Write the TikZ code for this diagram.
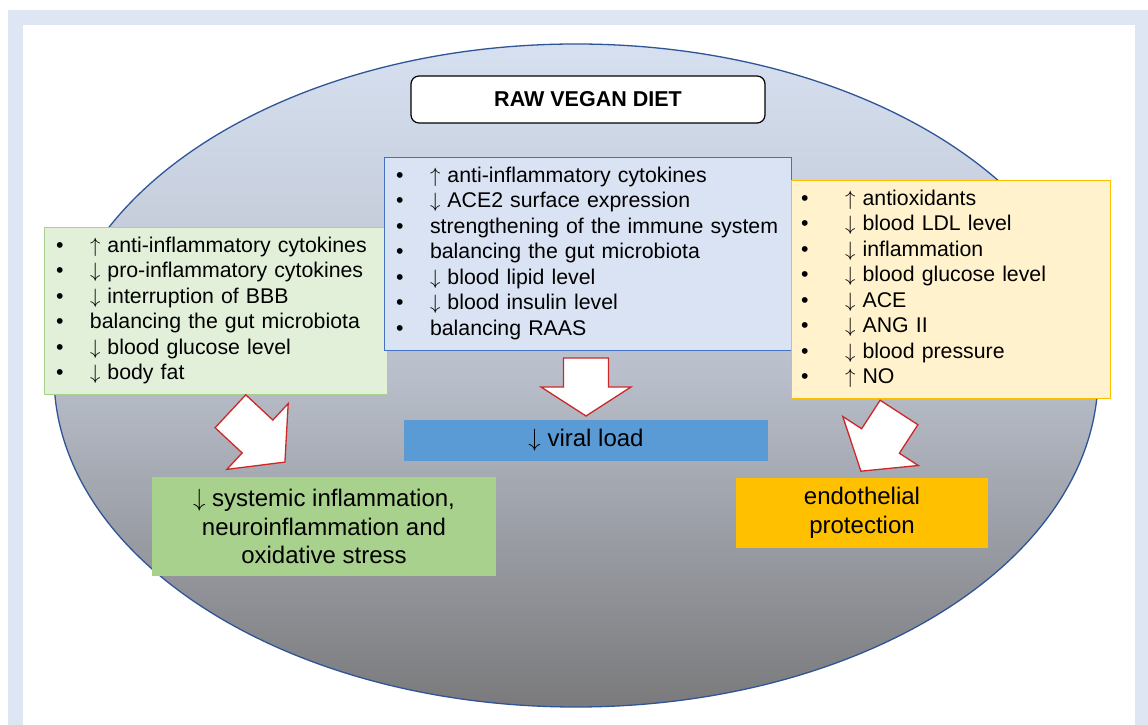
\documentclass[tikz,border=0pt]{standalone}
\usepackage{fontspec}
\setmainfont{Liberation Sans}
\usetikzlibrary{calc,positioning}

\definecolor{framebg}{RGB}{222,230,243}
\definecolor{ellborder}{RGB}{47,85,151}
\definecolor{elltop}{RGB}{214,224,240}
\definecolor{ellmid}{RGB}{184,190,202}
\definecolor{ellbot}{RGB}{122,122,124}
\definecolor{boxblue}{RGB}{218,227,243}
\definecolor{lineblue}{RGB}{68,114,196}
\definecolor{boxgreen}{RGB}{226,240,217}
\definecolor{linegreen}{RGB}{169,209,142}
\definecolor{boxyellow}{RGB}{255,242,204}
\definecolor{lineyellow}{RGB}{255,192,0}
\definecolor{viralblue}{RGB}{91,155,213}
\definecolor{resgreen}{RGB}{169,209,142}
\definecolor{resorange}{RGB}{255,192,0}
\definecolor{arrowred}{RGB}{204,40,40}

\newcommand{\bul}[1][34pt]{\makebox[#1][l]{•}}
\newcommand{\up}{$\uparrow$}
\newcommand{\dn}{$\downarrow$}
\newcommand{\fatarrow}[4]{% base of head, angle, shaft length, head length
  \draw[fatline, shift={(#1)}, rotate=#2] (-#3,-22.5) -- (0,-22.5) -- (0,-45) -- (#4,0) -- (0,45) -- (0,22.5) -- (-#3,22.5) -- cycle;}

\tikzset{
  listbox/.style={draw, line width=0.9pt, inner xsep=12pt, inner ysep=0pt, align=left,
    font=\fontsize{21.3}{25.5}\selectfont},
  resbox/.style={inner sep=0pt, align=center, font=\fontsize{24}{28.5}\selectfont},
  titlebox/.style={draw=black, fill=white, line width=1.2pt, rounded corners=8pt,
    minimum width=354pt, minimum height=47pt, font=\bfseries\fontsize{21.5}{25}\selectfont},
  fatline/.style={draw=arrowred, fill=white, line width=1.3pt, line join=miter}
}

\begin{document}
\begin{tikzpicture}[x=1pt, y=1pt]
    \useasboundingbox (0,0) rectangle (1148,725);
    % frame
    \fill[framebg] (8,0) rectangle (1148,715);
    \fill[white] (23,0) rectangle (1135,700);

    % ellipse
    \shade[top color=elltop, bottom color=ellbot, middle color=ellmid] (576,349.5) ellipse (522 and 331.5);
    \draw[ellborder, line width=1.3pt] (576,349.5) ellipse (522 and 331.5);

    \node[titlebox] (diet) at (588,625.5) {RAW VEGAN DIET};

    % lists
    \node[listbox, fill=boxgreen, draw=linegreen, minimum width=343pt, minimum height=167pt, text width=319pt] (brain) at (215.5,414.5) {%
        \bul \up\ anti-inflammatory cytokines\\
        \bul \dn\ pro-inflammatory cytokines\\
        \bul \dn\ interruption of BBB\\
        \bul balancing the gut microbiota\\
        \bul \dn\ blood glucose level\\
        \bul \dn\ body fat};
    \node[listbox, fill=boxblue, draw=lineblue, minimum width=407pt, minimum height=193pt, text width=383pt] (immune) at (587.5,471.5) {%
        \bul \up\ anti-inflammatory cytokines\\
        \bul \dn\ ACE2 surface expression\\
        \bul strengthening of the immune system\\
        \bul balancing the gut microbiota\\
        \bul \dn\ blood lipid level\\
        \bul \dn\ blood insulin level\\
        \bul balancing RAAS};
    \node[listbox, fill=boxyellow, draw=lineyellow, inner xsep=10pt, minimum width=319pt, minimum height=218pt, text width=299pt] (vessel) at (950.5,436) {%
        \bul[37pt] \up\ antioxidants\\
        \bul[37pt] \dn\ blood LDL level\\
        \bul[37pt] \dn\ inflammation\\
        \bul[37pt] \dn\ blood glucose level\\
        \bul[37pt] \dn\ ACE\\
        \bul[37pt] \dn\ ANG II\\
        \bul[37pt] \dn\ blood pressure\\
        \bul[37pt] \up\ NO};

    % results
    \node[resbox, fill=viralblue, minimum width=364pt, minimum height=41pt] (viral) at (586,284.5) {\dn\ viral load};
    \node[resbox, fill=resgreen, minimum width=344pt, minimum height=99pt] (inflam) at (324,198.5) {\dn\ systemic inflammation,\\neuroinflammation and\\oxidative stress};
    \node[resbox, fill=resorange, minimum width=252pt, minimum height=70pt] (endo) at (862,212) {endothelial\\protection};

    % arrows
    \coordinate (arrL) at (257.5,288.5);
    \coordinate (arrM) at (586,338);
    \coordinate (arrR) at (880.5,284);
    \fatarrow{arrL}{-43}{37}{37.5}
    \fatarrow{arrM}{-90}{29}{29}
    \fatarrow{arrR}{-123}{34}{36}
\end{tikzpicture}
\end{document}
